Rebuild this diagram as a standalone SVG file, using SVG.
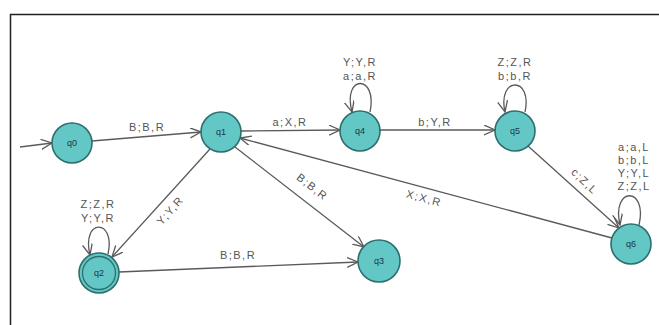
<svg xmlns="http://www.w3.org/2000/svg" width="659" height="325" viewBox="0 0 659 325">
<defs>
<marker id="arr" markerUnits="userSpaceOnUse" markerWidth="14" markerHeight="12" refX="11" refY="5" orient="auto" viewBox="0 0 14 12">
<path d="M0,0 L11,5 L0,10" fill="none" stroke="#5a5a5a" stroke-width="1.3"/>
</marker>
<style>
.st{fill:#63c8c5;stroke:#2e6e6e;stroke-width:1.6}
.nl{font-family:"Liberation Sans",Arial,sans-serif;font-size:9px;fill:#234;text-anchor:middle}
.e{fill:none;stroke:#5a5a5a;stroke-width:1.3;marker-end:url(#arr)}
.lb{font-family:"Liberation Sans",Arial,sans-serif;font-size:11px;fill:#555;text-anchor:middle;letter-spacing:1.5px}
</style>
</defs>
<rect width="659" height="325" fill="#fff"/>
<path d="M10.5,325 L10.5,14.5 L659,14.5" fill="none" stroke="#222" stroke-width="1.5"/>
<g id="connectors">
<line class="e" x1="20" y1="147" x2="52" y2="143"/>
<line class="e" x1="92" y1="141" x2="201" y2="132"/>
<line class="e" x1="241" y1="131" x2="340" y2="130"/>
<line class="e" x1="380" y1="130" x2="495" y2="130"/>
<line class="e" x1="210" y1="149" x2="112" y2="257"/>
<line class="e" x1="235" y1="147" x2="364" y2="247"/>
<line class="e" x1="119" y1="272" x2="358" y2="262"/>
<line class="e" x1="612" y1="238" x2="240" y2="138"/>
<line class="e" x1="528" y1="146" x2="619" y2="228"/>
<path class="e" d="M370,112 C378,74 342,74 352,112"/>
<path class="e" d="M525,112 C533,76 497,76 505,112"/>
<path class="e" d="M108,254 C116,218 81,218 90,255"/>
<path class="e" d="M639,225 C648,186 611,186 620,225"/>
<text class="lb" x="147" y="131">B;B,R</text>
<text class="lb" x="290" y="126">a;X,R</text>
<text class="lb" x="435" y="126">b;Y,R</text>
<text class="lb" transform="translate(173,213) rotate(-48)">Y;Y,R</text>
<text class="lb" transform="translate(310,190) rotate(38)">B;B,R</text>
<text class="lb" x="238" y="259">B;B,R</text>
<text class="lb" transform="translate(423,202) rotate(15)">X;X,R</text>
<text class="lb" transform="translate(582,184) rotate(44)">c;Z,L</text>
<text class="lb" x="360" y="66">Y;Y,R</text>
<text class="lb" x="360" y="80">a;a,R</text>
<text class="lb" x="515" y="66">Z;Z,R</text>
<text class="lb" x="515" y="80">b;b,R</text>
<text class="lb" x="98" y="208">Z;Z,R</text>
<text class="lb" x="98" y="222">Y;Y,R</text>
<text class="lb" x="634" y="151">a;a,L</text>
<text class="lb" x="634" y="164">b;b,L</text>
<text class="lb" x="634" y="177">Y;Y,L</text>
<text class="lb" x="634" y="190">Z;Z,L</text>
</g>
<g id="q0"><circle class="st" cx="72" cy="143" r="20"/><text class="nl" x="72" y="146">q0</text></g>
<g id="q1"><circle class="st" cx="221" cy="132" r="20"/><text class="nl" x="221" y="135">q1</text></g>
<g id="q4"><circle class="st" cx="360" cy="131" r="20"/><text class="nl" x="360" y="134">q4</text></g>
<g id="q5"><circle class="st" cx="515" cy="131" r="20"/><text class="nl" x="515" y="134">q5</text></g>
<g id="q6"><circle class="st" cx="631" cy="244" r="20"/><text class="nl" x="631" y="247">q6</text></g>
<g id="q2"><circle class="st" cx="99" cy="273" r="20" stroke-width="2.2"/><circle cx="99" cy="273" r="16.5" fill="none" stroke="#2e6e6e" stroke-width="1.3"/><text class="nl" x="99" y="276">q2</text></g>
<g id="q3"><circle class="st" cx="379" cy="261" r="21"/><text class="nl" x="379" y="264">q3</text></g>
</svg>
